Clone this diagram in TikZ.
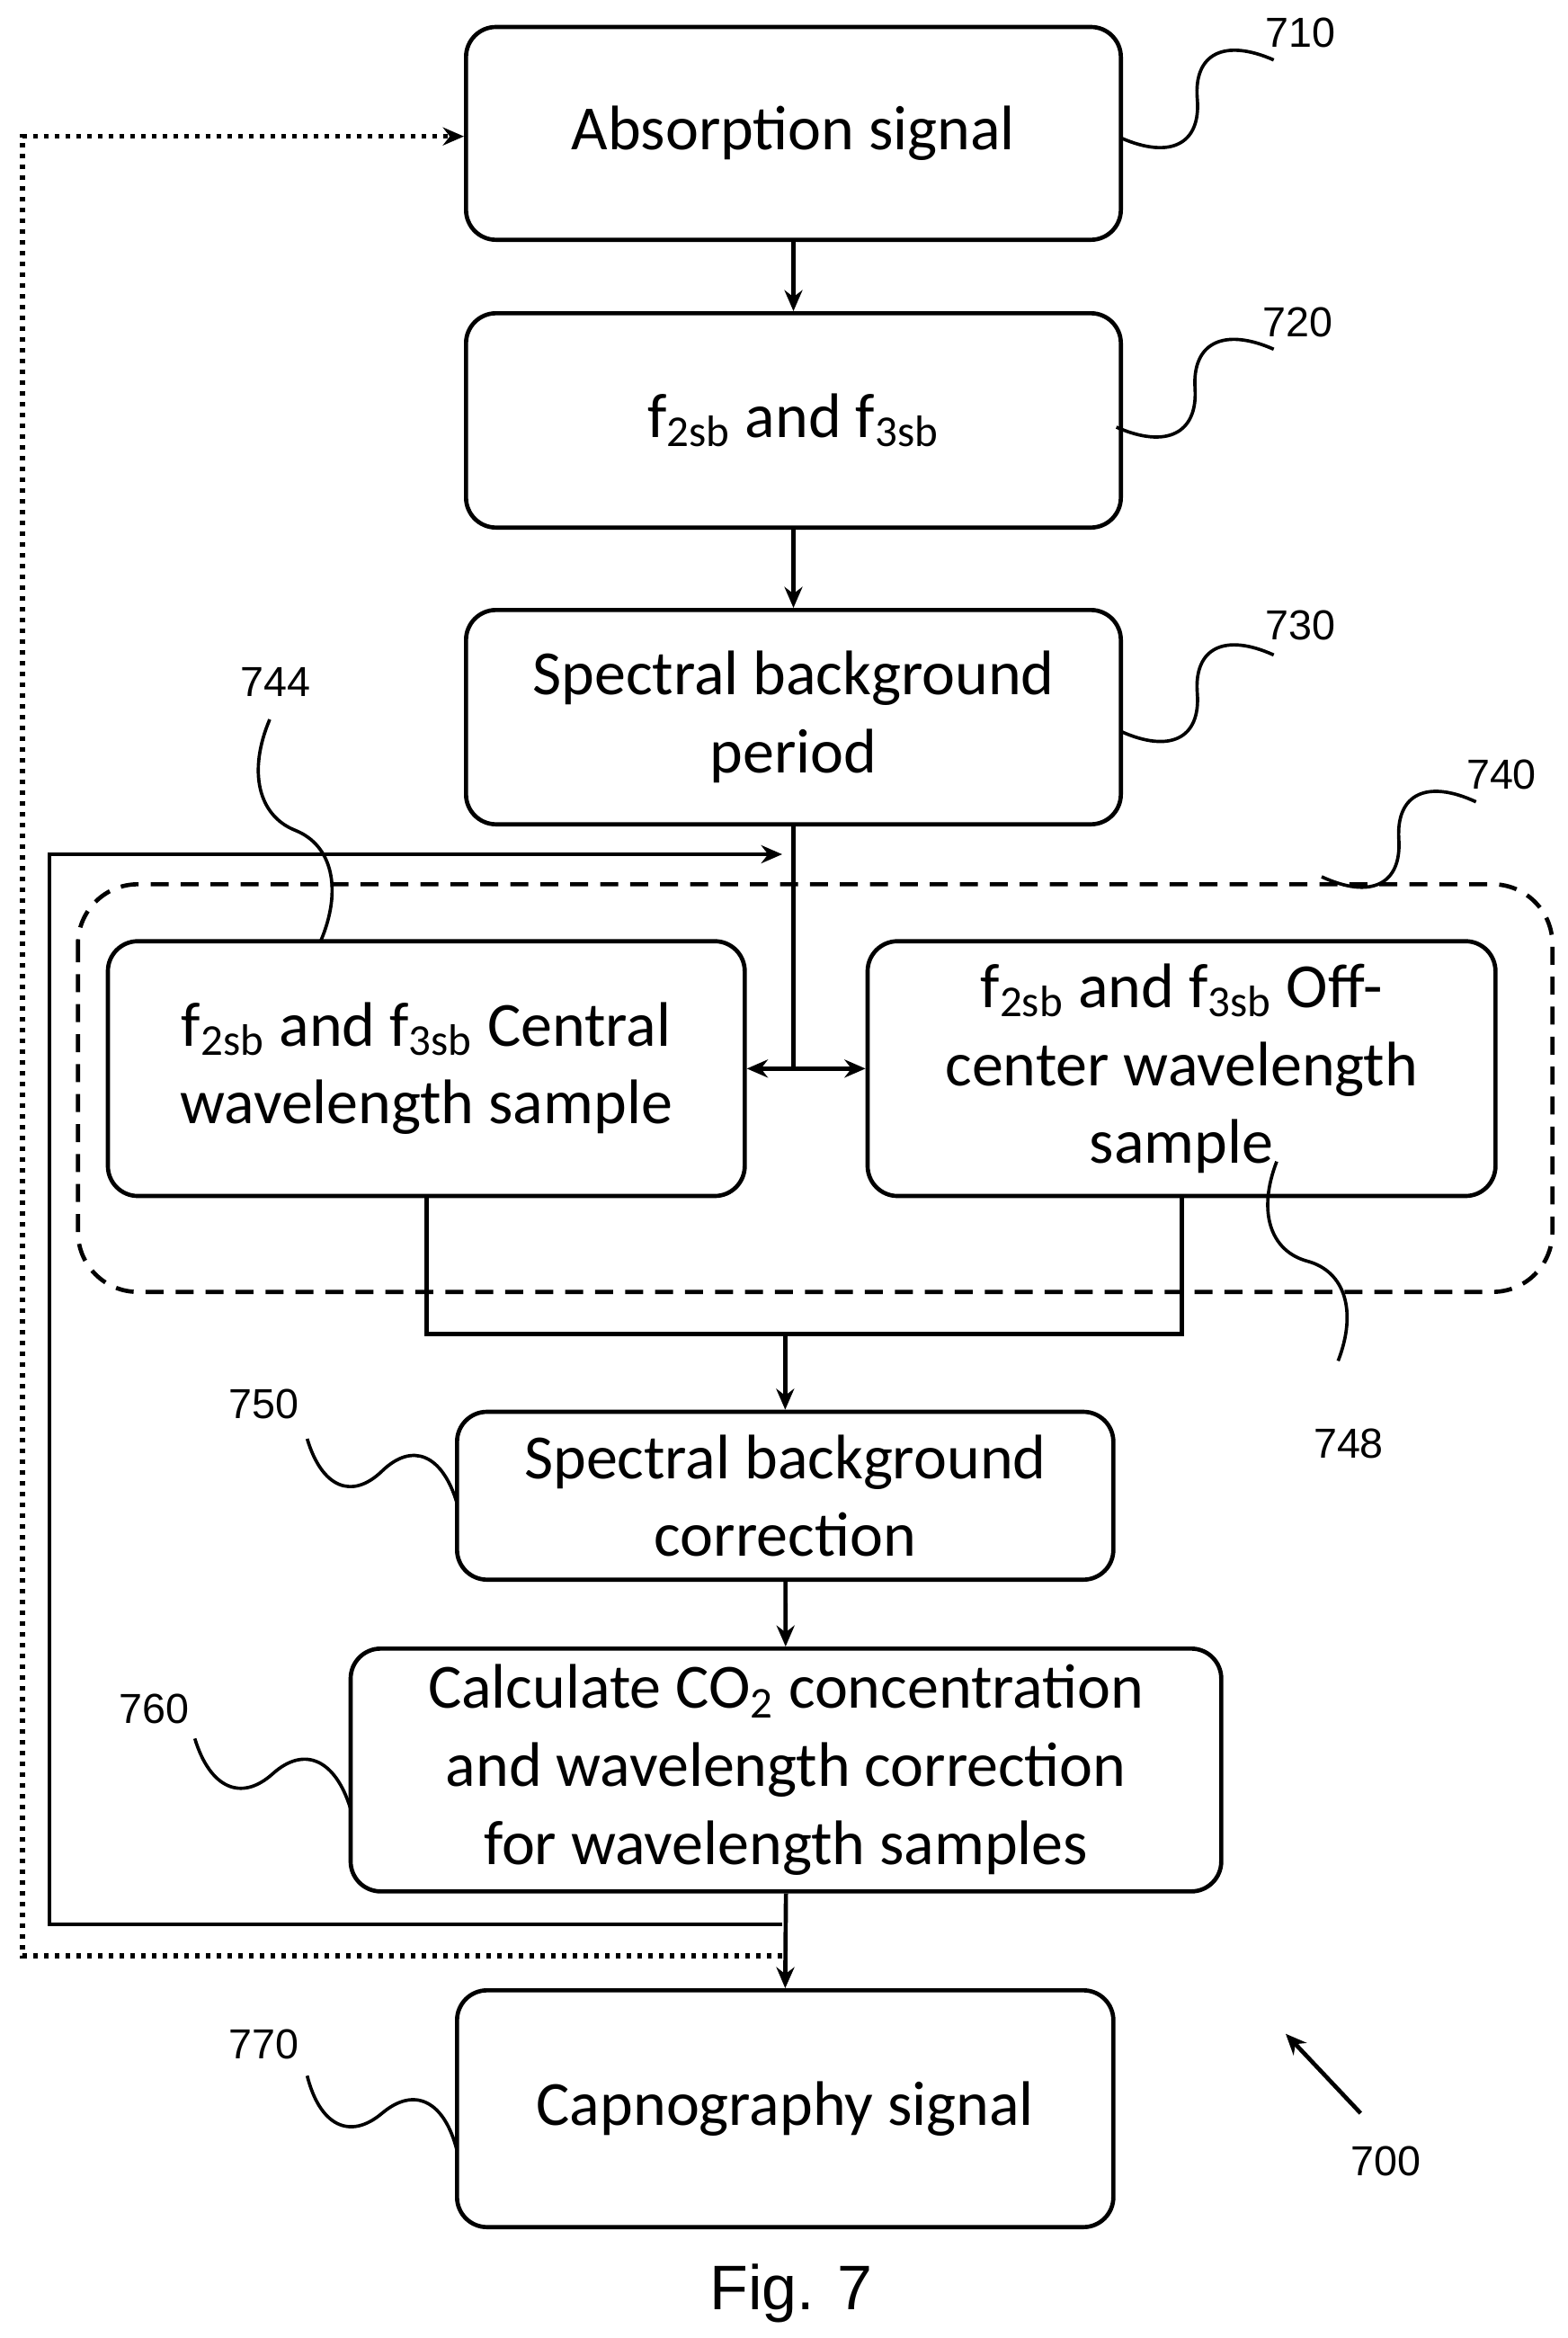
\documentclass[tikz,border=0pt]{standalone}
\usepackage{fontspec}
\setmainfont{Carlito}
\newfontfamily\arialf{Liberation Sans}
\usetikzlibrary{arrows.meta}
\begin{document}
\begin{tikzpicture}[x=0.5pt,y=-0.5pt,line width=1.4pt,
  box/.style={draw,rounded corners=10pt,align=center,font=\fontsize{21}{26}\selectfont,inner sep=0pt},
  lab/.style={font=\arialf\fontsize{14}{16}\selectfont},
  arr/.style={-{Stealth[length=7pt,width=6pt]}},
  wig/.style={line width=1.1pt}]
\useasboundingbox (0,0) rectangle (1046,1560);
\newcommand\wig[5]{%
 \pgfmathsetmacro\wdx{#3-#1}\pgfmathsetmacro\wdy{#4-#2}%
 \pgfmathsetmacro\wL{10*sqrt((\wdx/10)^2+(\wdy/10)^2)}%
 \pgfmathsetmacro\wpx{-\wdy/\wL*#5}\pgfmathsetmacro\wpy{\wdx/\wL*#5}%
 \draw[wig] (#1,#2) .. controls ({#1+0.2*\wdx+\wpx},{#2+0.2*\wdy+\wpy}) and ({#1+0.4*\wdx+\wpx},{#2+0.4*\wdy+\wpy}) .. ({#1+0.5*\wdx},{#2+0.5*\wdy})
   .. controls ({#1+0.6*\wdx-\wpx},{#2+0.6*\wdy-\wpy}) and ({#1+0.8*\wdx-\wpx},{#2+0.8*\wdy-\wpy}) .. (#3,#4);}
\node[box,minimum width=218.5pt,minimum height=71pt] (a) at (529.5,89) {Absorption signal};
\node[box,minimum width=218.5pt,minimum height=71.5pt] (b) at (529.5,280.5) {f\textsubscript{2sb} and f\textsubscript{3sb}};
\node[box,minimum width=218.5pt,minimum height=71.5pt] (c) at (529.5,478.5) {Spectral background\\period};
\draw[dash pattern=on 6pt off 4pt,rounded corners=20pt] (52,590) rectangle (1036,862);
\node[box,minimum width=212.5pt,minimum height=85pt] (d) at (284.5,713) {f\textsubscript{2sb} and f\textsubscript{3sb} Central\\wavelength sample};
\node[box,minimum width=209.5pt,minimum height=85pt] (e) at (788.5,713) {f\textsubscript{2sb} and f\textsubscript{3sb} Off-\\center wavelength\\sample};
\node[box,minimum width=219pt,minimum height=56pt] (f) at (524,998) {Spectral background\\correction};
\node[box,minimum width=290.5pt,minimum height=81pt] (g) at (524.5,1181) {Calculate CO\textsubscript{2} concentration\\and wavelength correction\\for wavelength samples};
\node[box,minimum width=219pt,minimum height=79pt] (h) at (524,1407) {Capnography signal};
% connectors
\draw[arr] (a) -- (b);
\draw[arr] (b) -- (c);
\coordinate (j) at (c.south |- d.east);
\draw (c.south) -- (j);
\draw[{Stealth[length=7pt,width=6pt]}-{Stealth[length=7pt,width=6pt]}] (d.east) -- (e.west);
\coordinate (m) at (f.north |- 0,890);
\draw (d.south) |- (m) -| (e.south);
\draw[arr] (m) -- (f.north);
\draw[arr] (f) -- (g);
\draw[arr] (g.south) -- (h.north);
\coordinate (fb) at (522,1284);
\coordinate (fbe) at (522,570);
\draw[arr] (fb) -| (33,570) -- (fbe);
\coordinate (db) at (522,1305);
\draw[arr,dotted,line width=1.6pt] (db) -| (15,91) -- (a.west |- 0,91);
% labels
\wig{748}{92}{850}{40}{28}
\node[lab] (l710) at (868,22) {710};
\wig{745}{285}{850}{233}{28}
\node[lab] (l720) at (866,215) {720};
\wig{748}{488}{850}{437}{28}
\node[lab] (l730) at (868,417) {730};
\wig{882}{585}{985}{535}{28}
\node[lab] (l740) at (1002,517) {740};
\wig{214}{628}{180}{480}{22}
\node[lab] (l744) at (184,455) {744};
\wig{852}{775}{893}{908}{22}
\node[lab] (l748) at (900,963) {748};
\wig{305}{1003}{205}{960}{26}
\node[lab] (l750) at (176,937) {750};
\wig{234}{1207}{130}{1160}{26}
\node[lab] (l760) at (103,1140) {760};
\wig{305}{1435}{205}{1385}{26}
\node[lab] (l770) at (176,1364) {770};
\node[lab] (l700) at (925,1442) {700};
\coordinate (p700) at (908,1410);
\draw[arr] (p700) -- (858,1357);
\node[font=\arialf\fontsize{21}{24}\selectfont] (fig) at (528,1530) {Fig. 7};
\end{tikzpicture}
\end{document}
